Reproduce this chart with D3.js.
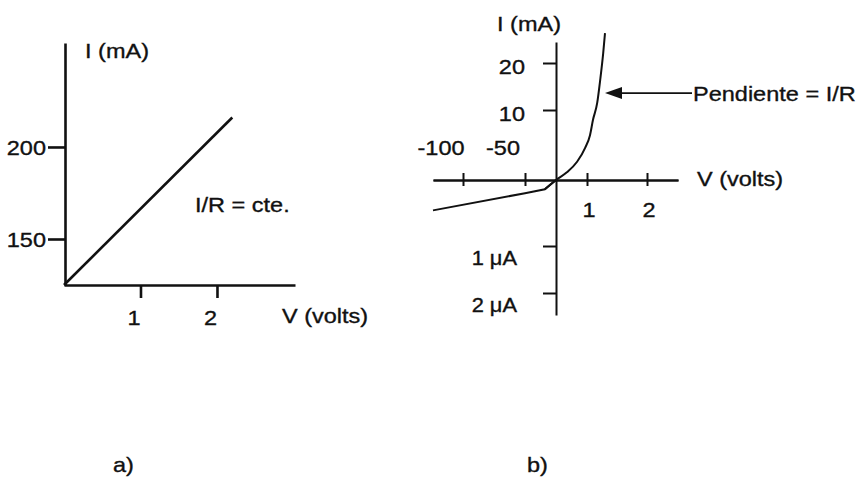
<!DOCTYPE html>
<html>
<head>
<meta charset="utf-8">
<script src="https://cdn.jsdelivr.net/npm/d3@7/dist/d3.min.js"></script>
<style>
  html, body { margin: 0; padding: 0; background: #fff; }
  svg { display: block; }
  text { font-family: "Liberation Sans", Arial, Helvetica, sans-serif; fill: #111; stroke: #111; stroke-width: 0.35px; }
</style>
</head>
<body>
<svg id="chart" width="861" height="485"></svg>
<script>
// ---- Panel a) : ohmic resistor, straight I–V line ----
const aVolts = [0, 2.2];
const aCurrent = [125, 216];          // mA
const aXTicks = [1, 2];
const aXTickLabels = ["1", "2"];
const aYTicks = [150, 200];
const aYTickLabels = ["150", "200"];

// ---- Panel b) : diode characteristic ----
// reverse branch (nearly straight leakage line)
const bRevVolts   = [-124, -50, -18, 0];
const bRevCurrent = [-0.00046, -0.0002, -0.00014, 0];          // mA
// forward branch (exponential rise)
const bFwdVolts   = [-18, 0, 0.35, 0.68, 0.94, 1.05, 1.1, 1.17, 1.22, 1.27, 1.3];
const bFwdCurrent = [-0.00014, 0, 1.1, 2.6, 4.6, 6.4, 8.6, 11.5, 16.4, 22.1, 26.4]; // mA
const bXTicks = [-100, -50, 1, 2];
const bXTickLabels = ["-100", "-50", "1", "2"];
const bYTicksUp = [10, 20];
const bYTickLabelsUp = ["10", "20"];
const bYTicksDown = [-0.001, -0.002];
const bYTickLabelsDown = ["1 \u03bcA", "2 \u03bcA"];
const arrowTarget = [1.2, 13.6];      // point on the curve the slope note refers to

const svg = d3.select("#chart");
const ink = "#111";
const SX = 1.12;                      // slightly wide lettering

function label(g, x, y, txt, anchor, size) {
  return g.append("text")
    .attr("transform", `translate(${x},${y}) scale(${SX},1)`)
    .attr("text-anchor", anchor || "start")
    .style("font-size", (size || 21) + "px")
    .text(txt);
}

function styleAxis(g, w) {
  g.selectAll("path, line").attr("stroke", ink).attr("stroke-width", w);
  g.selectAll("text").remove();
}

// ================= Panel a =================
const ga = svg.append("g");
const xa = d3.scaleLinear().domain([0, 3.02]).range([64, 295]);
const ya = d3.scaleLinear().domain([125, 256.5]).range([285, 43]);

ga.append("g")
  .attr("transform", `translate(0,${ya(125)})`)
  .call(d3.axisBottom(xa).tickValues(aXTicks).tickSize(13).tickSizeOuter(0).tickFormat(""))
  .call(g => styleAxis(g, 2.6));

ga.append("g")
  .attr("transform", `translate(${xa(0) + 1},0)`)
  .call(d3.axisLeft(ya).tickValues(aYTicks).tickSize(17).tickSizeOuter(0).tickFormat(""))
  .call(g => styleAxis(g, 2.6));

ga.append("path")
  .datum(aVolts.map((v, i) => [v, aCurrent[i]]))
  .attr("fill", "none")
  .attr("stroke", ink)
  .attr("stroke-width", 2.6)
  .attr("d", d3.line().x(d => xa(d[0])).y(d => ya(d[1])));

aXTicks.forEach((t, i) => label(ga, xa(t) - 6.5, 325, aXTickLabels[i], "middle"));
aYTicks.forEach((t, i) => label(ga, 46, ya(t) + 8.5, aYTickLabels[i], "end"));
label(ga, 85, 58, "I (mA)");
label(ga, 282, 323, "V (volts)");
label(ga, 195, 212, "I/R = cte.");
label(ga, 113, 472, "a)");

// ================= Panel b =================
const gb = svg.append("g");
const xb = d3.scaleLinear()
  .domain([-124, -100, -50, 0, 1, 2, 2.52])
  .range([433, 463, 525, 556, 587, 647, 678]);
const yb = d3.scaleLinear()
  .domain([-0.00247, -0.002, -0.001, 0, 10, 20, 24.5])
  .range([315, 293, 246, 180, 110, 63, 42]);

// horizontal axis: ticks cross the line on both sides
gb.append("g")
  .attr("transform", `translate(0,${yb(0)})`)
  .call(d3.axisBottom(xb).tickValues(bXTicks).tickSize(6).tickSizeOuter(0).tickFormat(""))
  .call(g => styleAxis(g, 2));
gb.append("g")
  .attr("transform", `translate(0,${yb(0)})`)
  .call(d3.axisTop(xb).tickValues(bXTicks).tickSize(7).tickSizeOuter(0).tickFormat(""))
  .call(g => styleAxis(g, 2));

gb.append("g")
  .attr("transform", `translate(${xb(0)},0)`)
  .call(d3.axisLeft(yb).tickValues(bYTicksUp.concat(bYTicksDown)).tickSize(13).tickSizeOuter(0).tickFormat(""))
  .call(g => styleAxis(g, 2));

gb.append("path")
  .datum(bRevVolts.map((v, i) => [xb(v), yb(bRevCurrent[i])]))
  .attr("fill", "none")
  .attr("stroke", ink)
  .attr("stroke-width", 2)
  .attr("d", d3.line());

gb.append("path")
  .datum(bFwdVolts.map((v, i) => [xb(v), yb(bFwdCurrent[i])]))
  .attr("fill", "none")
  .attr("stroke", ink)
  .attr("stroke-width", 2)
  .attr("d", d3.line().curve(d3.curveMonotoneX));

// tick labels
bXTicks.forEach((t, i) => {
  if (t < 0) label(gb, xb(t) - 22, 155, bXTickLabels[i], "middle");
  else label(gb, xb(t) + 2, 217, bXTickLabels[i], "middle");
});
bYTicksUp.forEach((t, i) => label(gb, 525, yb(t) + 10.5, bYTickLabelsUp[i], "end"));
bYTicksDown.forEach((t, i) => label(gb, 517, yb(t) + 19, bYTickLabelsDown[i], "end", 19.5));
label(gb, 497, 31, "I (mA)");
label(gb, 697, 186, "V (volts)");

// slope annotation with arrow
const tipX = xb(arrowTarget[0]) + 6, tipY = yb(arrowTarget[1]);
gb.append("line")
  .attr("x1", tipX + 14).attr("y1", tipY)
  .attr("x2", 692).attr("y2", tipY)
  .attr("stroke", ink).attr("stroke-width", 1.6);
gb.append("path")
  .attr("d", `M${tipX},${tipY} L${tipX + 17},${tipY - 6} L${tipX + 17},${tipY + 6} Z`)
  .attr("fill", ink);
label(gb, 693, tipY + 7.5, "Pendiente = I/R");
label(gb, 527, 472, "b)");
</script>
</body>
</html>
